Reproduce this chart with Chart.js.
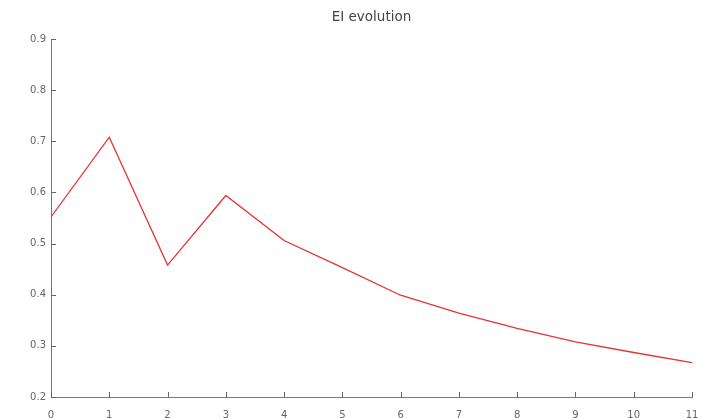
<!DOCTYPE html>
<html>
<head>
<meta charset="utf-8">
<script src="https://cdn.jsdelivr.net/npm/chart.js@4"></script>
<style>
  html, body { margin: 0; padding: 0; background: #fff; }
  #wrap { width: 702px; height: 418px; }
</style>
</head>
<body>
<div id="wrap"><canvas id="ei-chart" width="702" height="418"></canvas></div>
<script>
const titleText = "EI evolution";
const iterations = [0, 1, 2, 3, 4, 5, 6, 7, 8, 9, 10, 11];
const eiValues = [0.552, 0.708, 0.458, 0.594, 0.506, 0.453, 0.399, 0.364, 0.334, 0.308, 0.287, 0.267];
const yTicks = [0.2, 0.3, 0.4, 0.5, 0.6, 0.7, 0.8, 0.9];

// small ticks drawn inward, like the octave plot, and the title centred on the axes
const octaveLook = {
  id: "octaveLook",
  afterDatasetsDraw(chart) {
    const ctx = chart.ctx;
    const area = chart.chartArea;
    const x = chart.scales.x;
    const y = chart.scales.y;
    ctx.save();
    ctx.strokeStyle = "#666";
    ctx.lineWidth = 1;
    ctx.beginPath();
    x.ticks.forEach((t) => {
      const px = Math.round(x.getPixelForValue(t.value)) + 0.5;
      ctx.moveTo(px, area.bottom);
      ctx.lineTo(px, area.bottom - 5);
    });
    y.ticks.forEach((t) => {
      const py = Math.round(y.getPixelForValue(t.value)) + 0.5;
      ctx.moveTo(area.left, py);
      ctx.lineTo(area.left + 5, py);
    });
    ctx.stroke();

    ctx.fillStyle = "#444";
    ctx.font = "13.5px 'DejaVu Sans'";
    ctx.textAlign = "center";
    ctx.textBaseline = "middle";
    ctx.fillText(titleText, (area.left + area.right) / 2, 17);
    ctx.restore();
  },
};

new Chart(document.getElementById("ei-chart"), {
  type: "line",
  data: {
    datasets: [
      {
        data: iterations.map((it, i) => ({ x: it, y: eiValues[i] })),
        borderColor: "rgb(232,50,50)",
        borderWidth: 1.3,
        pointRadius: 0,
        fill: false,
        tension: 0,
      },
    ],
  },
  options: {
    responsive: false,
    animation: false,
    layout: {
      padding: { left: 0, right: 10, top: 39, bottom: 0 },
    },
    plugins: {
      legend: { display: false },
      tooltip: { enabled: false },
      title: { display: false },
    },
    scales: {
      x: {
        type: "linear",
        min: 0,
        max: 11,
        grid: { display: false, tickLength: 0 },
        border: { display: true, color: "#777", width: 1 },
        ticks: {
          stepSize: 1,
          padding: 12,
          maxRotation: 0,
          color: "#666",
          font: { family: "DejaVu Sans", size: 10 },
        },
        afterFit: (scale) => {
          scale.height = 21;
          scale.paddingLeft = 0;
          scale.paddingRight = 0;
        },
      },
      y: {
        min: 0.2,
        max: 0.9,
        grid: { display: false, tickLength: 0 },
        border: { display: true, color: "#777", width: 1 },
        afterBuildTicks: (scale) => {
          scale.ticks = yTicks.map((v) => ({ value: v }));
        },
        ticks: {
          padding: 5,
          color: "#666",
          font: { family: "DejaVu Sans", size: 10 },
          callback: (value) => value.toFixed(1),
        },
        afterFit: (scale) => {
          scale.width = 51;
          scale.paddingTop = 0;
          scale.paddingBottom = 0;
        },
      },
    },
  },
  plugins: [octaveLook],
});
</script>
</body>
</html>
